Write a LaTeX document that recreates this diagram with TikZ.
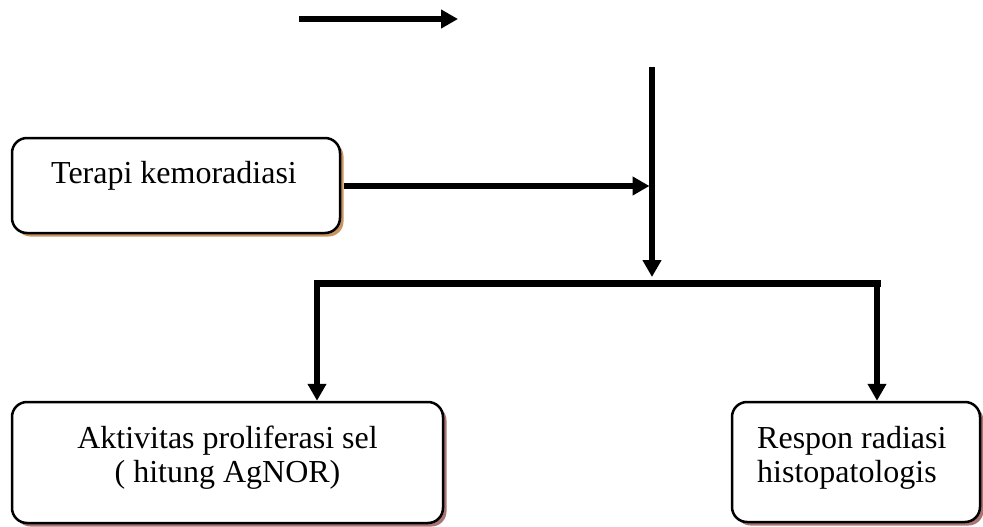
\documentclass[tikz,border=0pt]{standalone}
\usepackage{fontspec}
\setmainfont{Liberation Serif}
\usetikzlibrary{arrows.meta,shadows}
\definecolor{shadowA}{HTML}{C8955F}
\definecolor{shadowB}{HTML}{A87474}
\tikzset{
  box/.style={draw=black, line width=2.5pt, rounded corners=15pt, fill=white, inner sep=0pt},
  shadA/.style={drop shadow={shadow xshift=3.5pt, shadow yshift=-3.5pt, opacity=1, fill=shadowA}},
  shadB/.style={drop shadow={shadow xshift=3.5pt, shadow yshift=-3.5pt, opacity=1, fill=shadowB}},
  lbl/.style={font=\fontsize{32}{34}\selectfont, inner sep=0pt},
  arr/.style={line width=6pt, -{Triangle[length=17pt,width=18pt]}},
  barline/.style={line width=7pt, line cap=rect}
}
\begin{document}
\begin{tikzpicture}[x=1pt,y=-1pt]
\useasboundingbox (0,0) rectangle (983,527);
% boxes
\node[box, shadA, minimum width=328pt, minimum height=95pt] (b1) at (176,185.5) {};
\node[box, shadB, minimum width=431pt, minimum height=121pt] (b2) at (227.5,462.5) {};
\node[box, shadB, minimum width=248pt, minimum height=120pt] (b3) at (856,462) {};
% texts
\node[lbl, anchor=base] (t1) at (174,183) {Terapi kemoradiasi};
\node[lbl, anchor=base, align=center] (t2) at (227.5,482) {Aktivitas proliferasi sel\\ ( hitung AgNOR)};
\node[lbl, anchor=base west, align=left] (t3) at (757,482) {Respon radiasi\\histopatologis};
% coordinates
\coordinate (ta) at (299,19);
\coordinate (tb) at (458,19);
\coordinate (vtop) at (652,67);
\coordinate (vbot) at (652,277);
\coordinate (hj) at (649.5,186);
\coordinate (bl) at (317,283);
\coordinate (br) at (877,283);
% connectors
\draw[arr] (ta) -- (tb);
\draw[arr] (vtop) -- (vbot);
\draw[arr] ([xshift=3pt]b1.east |- hj) -- (hj);
\draw[barline] (bl) -- (br);
\draw[arr] (bl) -- (bl |- b2.north);
\draw[arr] (br) -- (br |- b3.north);
\end{tikzpicture}
\end{document}
